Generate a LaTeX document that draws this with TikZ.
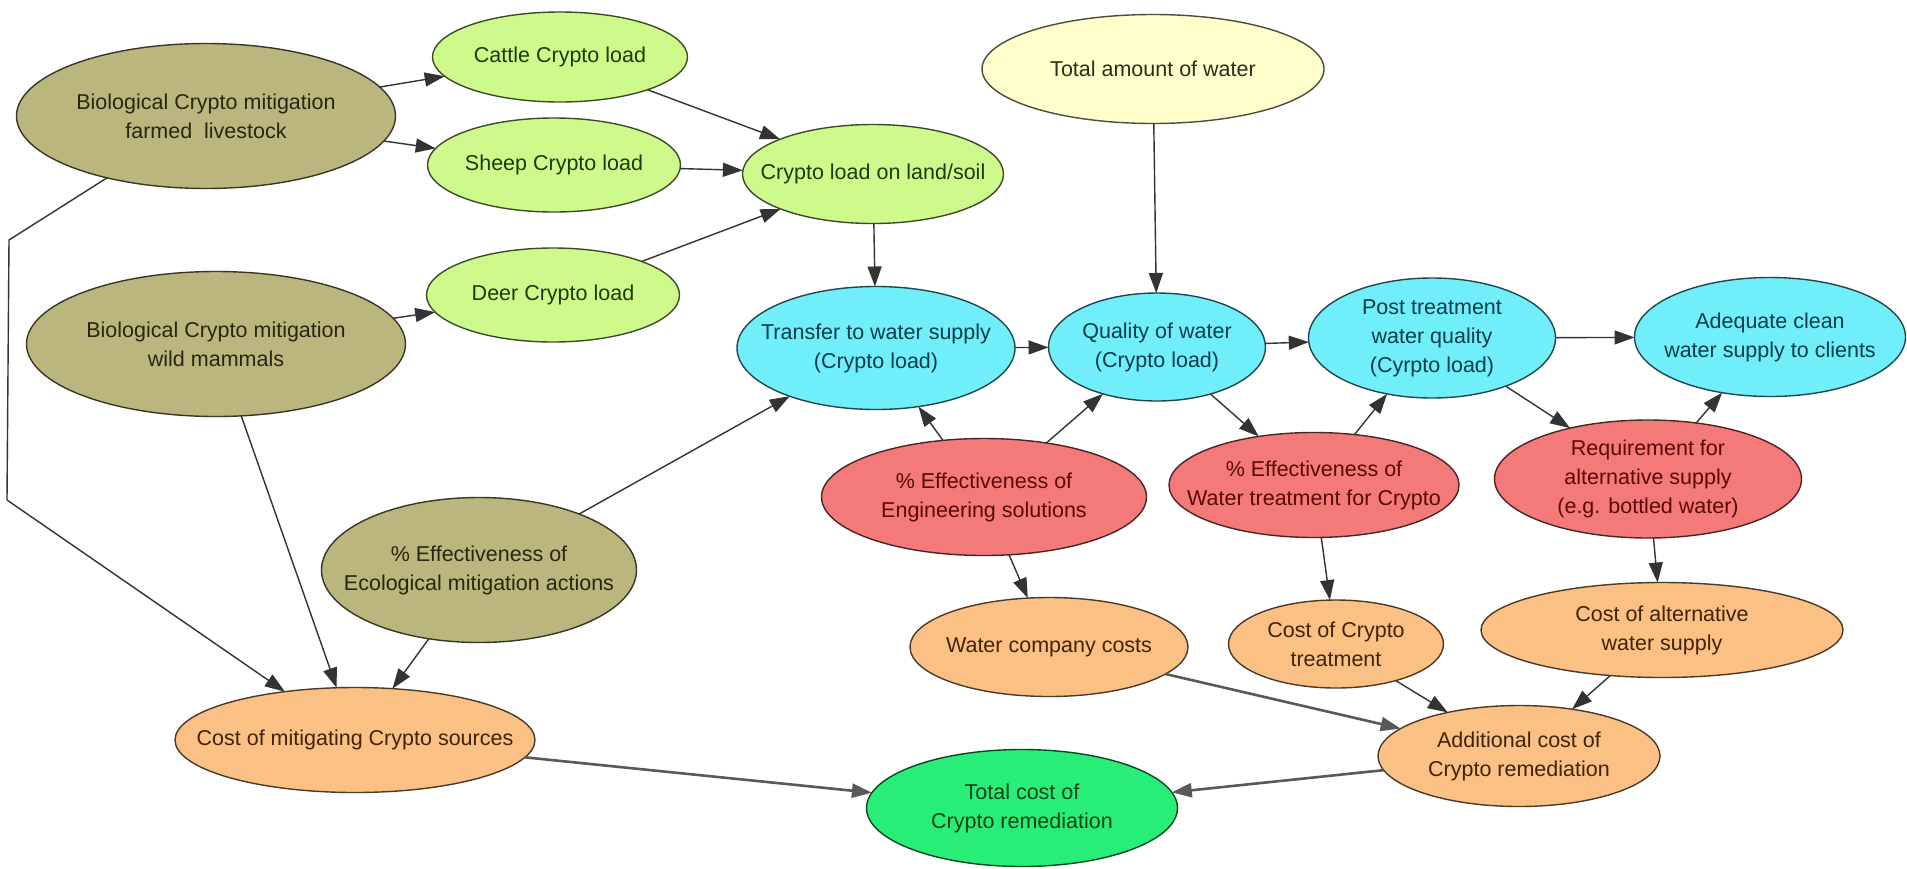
\documentclass[tikz,border=0pt]{standalone}
\usepackage{fontspec}
\setmainfont{Liberation Sans}
\usetikzlibrary{shapes.geometric,arrows.meta}
\definecolor{olvF}{RGB}{187,182,126}
\definecolor{lgrF}{RGB}{206,250,140}
\definecolor{cynF}{RGB}{112,238,250}
\definecolor{ylwF}{RGB}{255,255,204}
\definecolor{redF}{RGB}{244,122,122}
\definecolor{orgF}{RGB}{250,192,132}
\definecolor{grnF}{RGB}{40,238,120}
\definecolor{olvT}{RGB}{40,38,15}
\definecolor{lgrT}{RGB}{25,60,8}
\definecolor{cynT}{RGB}{8,60,75}
\definecolor{ylwT}{RGB}{45,45,25}
\definecolor{redT}{RGB}{90,8,8}
\definecolor{orgT}{RGB}{65,35,8}
\definecolor{grnT}{RGB}{15,65,25}
\newcommand\BNnode[7]{\node[bn=#2, minimum width=#5pt, minimum height=#6pt,
  label={[txt=#2]center:{#7}}] (#1) at (#3,#4) {};}
\tikzset{
  bn/.style={ellipse, draw=#1F!30!black, line width=1.4pt, fill=#1F, inner sep=0pt, outer sep=0pt},
  txt/.style={text=#1T, align=center, inner sep=0pt, font=\fontsize{21.5}{29}\selectfont},
  conn/.style={draw=black!80, line width=1.4pt, -{Triangle[length=20pt,width=14pt]}},
  thick conn/.style={conn, draw=black!65, line width=2.6pt},
  plain/.style={draw=black!80, line width=1.4pt}
}
\begin{document}
\begin{tikzpicture}[x=1pt,y=-1pt]
\useasboundingbox[fill=white] (0,0) rectangle (1907,868);
\BNnode{bf}{olv}{206}{116}{379}{145}{Biological Crypto mitigation\\farmed\ \ livestock}
\BNnode{cattle}{lgr}{560}{57}{255}{90}{Cattle Crypto load}
\BNnode{sheep}{lgr}{554}{165}{253}{94}{Sheep Crypto load}
\BNnode{cland}{lgr}{873}{174}{261}{99}{Crypto load on land/soil}
\BNnode{deer}{lgr}{553}{295}{253}{94}{Deer Crypto load}
\BNnode{bw}{olv}{216}{344}{379}{145}{Biological Crypto mitigation\\wild mammals}
\BNnode{tw}{ylw}{1153}{69}{342}{109}{Total amount of water}
\BNnode{tr}{cyn}{876}{348}{278}{123}{Transfer to water supply\\(Crypto load)}
\BNnode{qw}{cyn}{1157}{347}{217}{108}{Quality of water\\(Crypto load)}
\BNnode{pt}{cyn}{1432}{338}{247}{120}{Post treatment\\water quality\\(Cyrpto load)}
\BNnode{aq}{cyn}{1770}{337}{271}{119}{Adequate clean\\water supply to clients}
\BNnode{ee}{red}{984}{497}{325}{117}{\% Effectiveness of\\Engineering solutions}
\BNnode{ewt}{red}{1314}{485}{290}{105}{\% Effectiveness of\\Water treatment for Crypto}
\BNnode{req}{red}{1648}{479}{307}{118}{Requirement for\\alternative supply\\(e.g. bottled water)}
\BNnode{eco}{olv}{479}{570}{315}{145}{\% Effectiveness of\\Ecological mitigation actions}
\BNnode{wc}{org}{1049}{647}{278}{99}{Water company costs}
\BNnode{ct}{org}{1336}{644}{215}{88}{Cost of Crypto\\treatment}
\BNnode{ca}{org}{1662}{630}{362}{95}{Cost of alternative\\water supply}
\BNnode{cm}{org}{355}{740}{360}{105}{Cost of mitigating Crypto sources}
\BNnode{ad}{org}{1519}{756}{282}{101}{Additional cost of\\Crypto remediation}
\BNnode{tot}{grn}{1022}{808}{311}{117}{Total cost of\\Crypto remediation}
\coordinate (p1) at (9,240);
\coordinate (p2) at (7,500);
% connectors
\draw[conn] (bf) -- (cattle);
\draw[conn] (bf) -- (sheep);
\draw[conn] (bw) -- (deer);
\draw[conn] (cattle) -- (cland);
\draw[conn] (sheep) -- (cland);
\draw[conn] (deer) -- (cland);
\draw[conn] (cland) -- (tr);
\draw[conn] (tw) -- (qw);
\draw[conn] (tr) -- (qw);
\draw[conn] (qw) -- (pt);
\draw[conn] (pt) -- (aq);
\draw[conn] (ee) -- (tr);
\draw[conn] (ee) -- (qw);
\draw[conn] (qw) -- (ewt);
\draw[conn] (ewt) -- (pt);
\draw[conn] (pt) -- (req);
\draw[conn] (req) -- (aq);
\draw[conn] (eco) -- (tr);
\draw[conn] (ee) -- (wc);
\draw[conn] (ewt) -- (ct);
\draw[conn] (req) -- (ca);
\draw[plain] (bf.212) -- (p1) -- (p2);
\draw[conn] (p2) -- (cm);
\draw[conn] (bw) -- (cm);
\draw[conn] (eco) -- (cm);
\draw[thick conn] (wc) -- (ad);
\draw[conn] (ct) -- (ad);
\draw[conn] (ca) -- (ad);
\draw[thick conn] (cm) -- (tot);
\draw[thick conn] (ad) -- (tot);
\end{tikzpicture}
\end{document}
